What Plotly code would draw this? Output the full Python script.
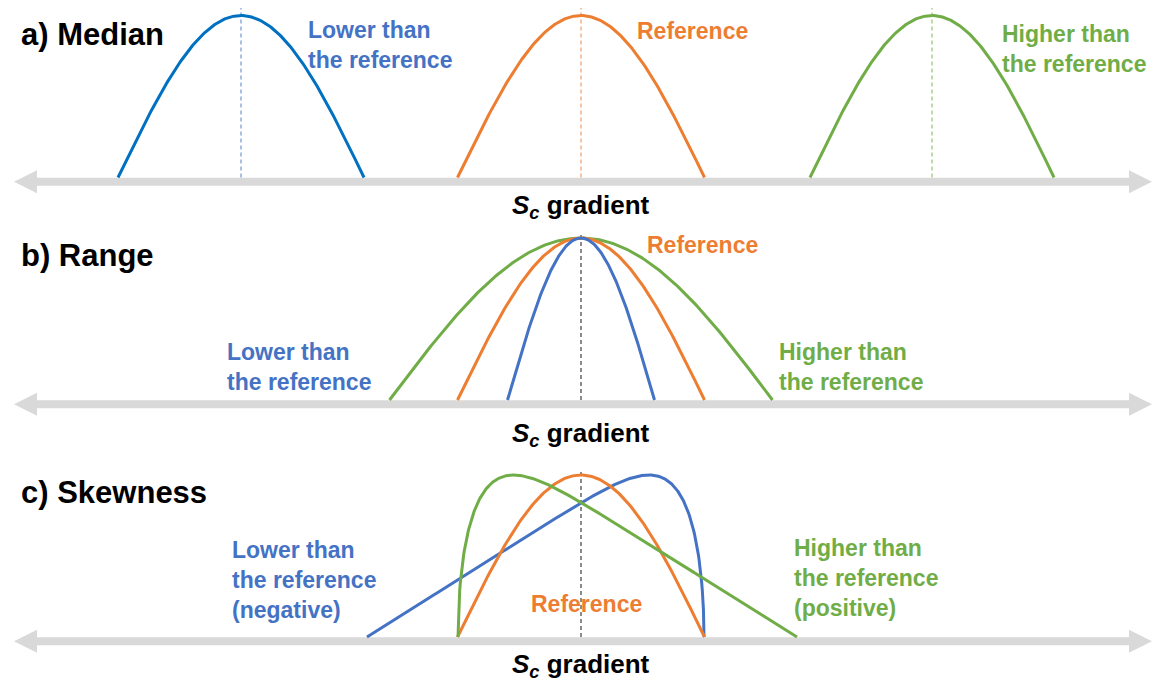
import numpy as np
import plotly.graph_objects as go

# ---------------- data (x in S_c-gradient units, y = relative frequency, peak = 1) ----------------
# a) Median
median_names = ["Lower than the reference", "Reference", "Higher than the reference"]
median_centers = [-3.40, 0.0, 3.51]
median_halfwidths = [1.23, 1.235, 1.22]
median_colors = ["#0070C0", "#ED7D31", "#70AD47"]
median_guide_colors = ["#8FAADC", "#F4B183", "#A9D18E"]

# b) Range
range_names = ["Lower than the reference", "Reference", "Higher than the reference"]
range_centers = [0.0, 0.0, 0.0]
range_halfwidths = [0.735, 1.235, 1.915]
range_colors = ["#4472C4", "#ED7D31", "#70AD47"]

# c) Skewness
skew_names = ["Lower than the reference (negative)", "Reference", "Higher than the reference (positive)"]
skew_starts = [-2.14, -1.235, -1.23]
skew_ends = [1.23, 1.235, 2.16]
skew_direction = [-1, 0, 1]          # -1 negative skew, 0 symmetric, +1 positive skew
skew_k = 10.0                        # tail sharpness of skewed shapes
skew_m = 0.5
skew_colors = ["#4472C4", "#ED7D31", "#70AD47"]

guide_top = [1.046, 1.037, 1.03]
AXIS_X = [-5.67, 5.71]
AXIS_Y = -0.026
X_RANGE = [-5.81, 5.74]

FONT = "Liberation Sans, Arial, Helvetica, sans-serif"


def sine_arch(c, hw, n=200):
    x = np.linspace(c - hw, c + hw, n)
    y = np.cos(np.pi / 2 * (x - c) / hw)
    return x, y


def skew_shape(x0, x1, direction, n=600):
    t = np.linspace(0, 1, n)
    s = t if direction < 0 else 1 - t
    y = s * np.clip(1 - s ** skew_k, 0, None) ** skew_m
    y = y / y.max()
    return x0 + t * (x1 - x0), y


fig = go.Figure()

# panel a
for c, hw, col, gcol, nm in zip(median_centers, median_halfwidths, median_colors,
                                median_guide_colors, median_names):
    fig.add_trace(go.Scatter(x=[c, c], y=[0, guide_top[0]], mode="lines",
                             line=dict(color=gcol, width=1.5, dash="4px,3px"),
                             yaxis="y", showlegend=False, hoverinfo="skip"))
    x, y = sine_arch(c, hw)
    fig.add_trace(go.Scatter(x=x, y=y, mode="lines", name=nm,
                             line=dict(color=col, width=3), yaxis="y", showlegend=False))

# panel b
fig.add_trace(go.Scatter(x=[range_centers[1]] * 2, y=[0, guide_top[1]], mode="lines",
                         line=dict(color="#666666", width=1.5, dash="4px,3px"),
                         yaxis="y2", showlegend=False, hoverinfo="skip"))
for c, hw, col, nm in reversed(list(zip(range_centers, range_halfwidths, range_colors, range_names))):
    x, y = sine_arch(c, hw)
    fig.add_trace(go.Scatter(x=x, y=y, mode="lines", name=nm,
                             line=dict(color=col, width=3), yaxis="y2", showlegend=False))

# panel c
fig.add_trace(go.Scatter(x=[0, 0], y=[0, guide_top[2]], mode="lines",
                         line=dict(color="#666666", width=1.5, dash="4px,3px"),
                         yaxis="y3", showlegend=False, hoverinfo="skip"))
for x0, x1, d, col, nm in zip(skew_starts, skew_ends, skew_direction, skew_colors, skew_names):
    if d == 0:
        x, y = sine_arch((x0 + x1) / 2, (x1 - x0) / 2)
    else:
        x, y = skew_shape(x0, x1, d)
    fig.add_trace(go.Scatter(x=x, y=y, mode="lines", name=nm,
                             line=dict(color=col, width=3), yaxis="y3", showlegend=False))

# gray double-headed axis arrows (drawn below the curves)
shapes = []
HEAD_L, HEAD_H = 23, 23
for yr in ["y", "y2", "y3"]:
    shapes.append(dict(type="line", xref="x", yref=yr, layer="below",
                       x0=AXIS_X[0] + 0.2, x1=AXIS_X[1] - 0.2, y0=AXIS_Y, y1=AXIS_Y,
                       line=dict(color="#D9D9D9", width=8)))
    shapes.append(dict(type="path", xref="x", yref=yr, layer="below",
                       xsizemode="pixel", ysizemode="pixel",
                       xanchor=AXIS_X[0], yanchor=AXIS_Y,
                       path=f"M0,0 L{HEAD_L},{HEAD_H/2} L{HEAD_L},{-HEAD_H/2} Z",
                       fillcolor="#D9D9D9", line=dict(width=0)))
    shapes.append(dict(type="path", xref="x", yref=yr, layer="below",
                       xsizemode="pixel", ysizemode="pixel",
                       xanchor=AXIS_X[1], yanchor=AXIS_Y,
                       path=f"M0,0 L{-HEAD_L},{HEAD_H/2} L{-HEAD_L},{-HEAD_H/2} Z",
                       fillcolor="#D9D9D9", line=dict(width=0)))

annotations = []


def label(x, y, yr, text, color, size=23, xanchor="left"):
    annotations.append(dict(x=x, y=y, xref="x", yref=yr, text=text, showarrow=False,
                            xanchor=xanchor, yanchor="middle", align="left",
                            font=dict(family=FONT, size=size, color=color)))


grad = "<b><i>S</i><sub><i>c</i></sub> gradient</b>"
# panel a
label(-5.62, 0.886, "y", "<b>a) Median</b>", "#000000", size=31)
label(-2.75, 0.818, "y", "<b>Lower than<br>the reference</b>", "#4472C4")
label(0.54, 0.904, "y", "<b>Reference</b>", "#ED7D31")
label(4.19, 0.793, "y", "<b>Higher than<br>the reference</b>", "#70AD47")
label(0.0, -0.182, "y", grad, "#000000", size=26, xanchor="center")
# panel b
label(-5.62, 0.889, "y2", "<b>b) Range</b>", "#000000", size=31)
label(0.64, 0.957, "y2", "<b>Reference</b>", "#ED7D31")
label(-3.56, 0.204, "y2", "<b>Lower than<br>the reference</b>", "#4472C4")
label(1.96, 0.204, "y2", "<b>Higher than<br>the reference</b>", "#70AD47")
label(0.0, -0.216, "y2", grad, "#000000", size=26, xanchor="center")
# panel c
label(-5.62, 0.889, "y3", "<b>c) Skewness</b>", "#000000", size=31)
label(-3.51, 0.352, "y3", "<b>Lower than<br>the reference<br>(negative)</b>", "#4472C4")
label(-0.52, 0.204, "y3", "<b>Reference</b>", "#ED7D31")
label(2.11, 0.364, "y3", "<b>Higher than<br>the reference<br>(positive)</b>", "#70AD47")
label(0.0, -0.173, "y3", grad, "#000000", size=26, xanchor="center")

hidden = dict(visible=False, showgrid=False, zeroline=False, fixedrange=True)
fig.update_layout(
    width=1155, height=682,
    margin=dict(l=0, r=0, t=0, b=0),
    paper_bgcolor="white", plot_bgcolor="white",
    xaxis=dict(range=X_RANGE, **hidden),
    yaxis=dict(domain=[0.66716, 1.0], range=[-0.3056, 1.096], **hidden),
    yaxis2=dict(domain=[0.33284, 0.66716], range=[-0.3395, 1.068], **hidden),
    yaxis3=dict(domain=[0.0, 0.33284], range=[-0.2778, 1.1235], **hidden),
    shapes=shapes,
    annotations=annotations,
    showlegend=False,
)

fig.write_html("out.html", config={"displayModeBar": False},
               post_script="document.body.style.margin='0';document.body.style.overflow='hidden';")
